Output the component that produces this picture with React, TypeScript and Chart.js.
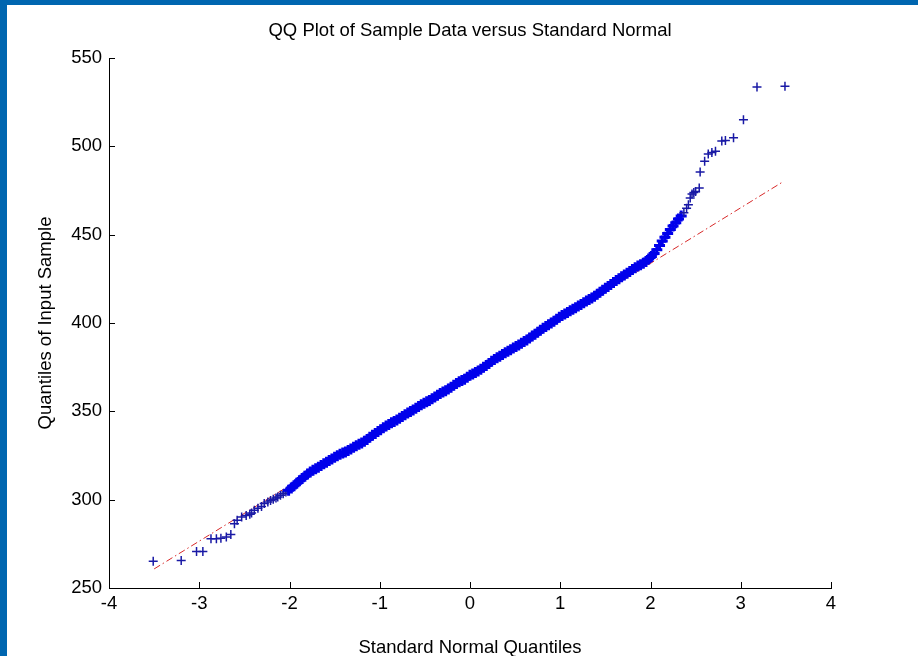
import React, { useEffect, useRef } from "react";
import { Chart, registerables } from "chart.js";

Chart.register(...registerables);

// Theoretical standard-normal quantiles (x) and sample quantiles (y)
const sampleX = [
  -3.51, -3.2, -3.03, -2.96, -2.87, -2.81, -2.76, -2.7, -2.65, -2.61, -2.58, -2.53, -2.48, -2.44, -2.42, -2.39,
  -2.35, -2.31, -2.28, -2.24, -2.21, -2.18, -2.15, -2.13, -2.1, -2.07, -2.04, -2.01,
  -1.98, -1.95, -1.92, -1.89, -1.86, -1.83, -1.8, -1.77, -1.74, -1.71, -1.68, -1.65, -1.62, -1.59, -1.56, -1.53,
  -1.5, -1.47, -1.44, -1.41, -1.38, -1.35, -1.32, -1.29, -1.26, -1.23, -1.2, -1.17, -1.14, -1.11, -1.08, -1.05,
  -1.02, -0.99, -0.96, -0.93, -0.9, -0.87, -0.84, -0.81, -0.78, -0.75, -0.72, -0.69, -0.66, -0.63, -0.6, -0.57,
  -0.54, -0.51, -0.48, -0.45, -0.42, -0.39, -0.36, -0.33, -0.3, -0.27, -0.24, -0.21, -0.18, -0.15, -0.12, -0.09,
  -0.06, -0.03, 0.0, 0.03, 0.06, 0.09, 0.12, 0.15, 0.18, 0.21, 0.24, 0.27, 0.3, 0.33, 0.36, 0.39,
  0.42, 0.45, 0.48, 0.51, 0.54, 0.57, 0.6, 0.63, 0.66, 0.69, 0.72, 0.75, 0.78, 0.81, 0.84, 0.87,
  0.9, 0.93, 0.96, 0.99, 1.02, 1.05, 1.08, 1.11, 1.14, 1.17, 1.2, 1.23, 1.26, 1.29, 1.32, 1.35,
  1.38, 1.41, 1.44, 1.47, 1.5, 1.53, 1.56, 1.59, 1.62, 1.65, 1.68, 1.71, 1.74, 1.77, 1.8, 1.83,
  1.86, 1.89, 1.92, 1.95, 1.98, 2.01, 2.04, 2.07, 2.1, 2.13, 2.16, 2.19, 2.22, 2.25, 2.28, 2.31,
  2.34, 2.37, 2.4, 2.42, 2.44, 2.46, 2.48, 2.5, 2.54, 2.55, 2.6, 2.64, 2.68, 2.72, 2.79, 2.83,
  2.92, 3.03, 3.18, 3.49,
];
const sampleY = [
  265.2, 265.6, 270.7, 270.7, 277.9, 277.9, 278.2, 278.8, 280.3, 286.4, 288.3, 290.2, 291.1, 291.8, 292.4, 294.0,
  295.1, 296.2, 297.8, 298.7, 299.5, 300.2, 300.9, 301.5, 302.5, 303.4, 304.3, 305.3,
  306.6, 307.9, 309.3, 310.7, 312.0, 313.3, 314.5, 315.6, 316.6, 317.5, 318.4, 319.3, 320.3, 321.2, 322.1, 323.0,
  324.0, 324.9, 325.7, 326.4, 327.0, 327.8, 328.7, 329.6, 330.5, 331.3, 332.1, 333.0, 334.1, 335.3, 336.4, 337.5,
  338.6, 339.6, 340.7, 341.7, 342.6, 343.5, 344.3, 345.1, 346.1, 347.1, 348.1, 349.0, 349.9, 350.8, 351.8, 352.8,
  353.7, 354.6, 355.4, 356.2, 357.1, 358.1, 359.1, 360.1, 360.9, 361.7, 362.7, 363.7, 364.7, 365.7, 366.7, 367.4,
  368.2, 369.3, 370.4, 371.2, 372.0, 372.8, 373.8, 374.9, 376.0, 377.1, 378.3, 379.4, 380.3, 381.2, 382.1, 383.1,
  384.0, 384.9, 385.8, 386.7, 387.6, 388.6, 389.5, 390.4, 391.5, 392.6, 393.7, 394.8, 395.9, 397.0, 398.0, 399.0,
  400.0, 401.0, 402.1, 403.2, 404.2, 405.1, 406.0, 406.9, 407.8, 408.7, 409.6, 410.5, 411.5, 412.4, 413.3, 414.2,
  415.2, 416.3, 417.4, 418.5, 419.6, 420.7, 421.8, 422.9, 424.0, 425.1, 426.2, 427.2, 428.2, 429.2, 430.3, 431.3,
  432.2, 433.0, 433.8, 434.8, 436.2, 437.7, 439.3, 441.4, 443.8, 446.4, 448.6, 450.7, 452.9, 454.9, 456.8, 458.8,
  460.6, 462.4, 465.0, 467.0, 470.7, 473.0, 473.8, 474.5, 476.4, 485.5, 491.5, 495.7, 496.5, 497.2, 503.0, 503.3,
  504.8, 515.0, 533.6, 534.0,
];

// Reference line through the quartiles (end points)
const refLineX = [-3.5, 3.47];
const refLineY = [260.8, 480.0];

const xTicks = [-4, -3, -2, -1, 0, 1, 2, 3, 4];
const yTicks = [250, 300, 350, 400, 450, 500, 550];

const titleText = "QQ Plot of Sample Data versus Standard Normal";
const xLabel = "Standard Normal Quantiles";
const yLabel = "Quantiles of Input Sample";

const FONT = "'Liberation Sans', Arial, Helvetica, sans-serif";
const FSIZE = 18.5;

// dense (overplotted) part of the sample draws as a solid band
const isDense = (x: number) => x > -2.03 && x < 2.37;

const decorations = {
  id: "decorations",
  afterDatasetsDraw(chart: any) {
    const { ctx, chartArea, scales } = chart;
    ctx.save();
    ctx.strokeStyle = "#000";
    ctx.lineWidth = 1;
    ctx.beginPath();
    for (const v of xTicks) {
      const px = Math.round(scales.x.getPixelForValue(v)) + 0.5;
      ctx.moveTo(px, chartArea.bottom);
      ctx.lineTo(px, chartArea.bottom - 6);
    }
    for (const v of yTicks) {
      const py = Math.round(scales.y.getPixelForValue(v)) + 0.5;
      ctx.moveTo(chartArea.left, py);
      ctx.lineTo(chartArea.left + 6, py);
    }
    ctx.stroke();
    ctx.fillStyle = "#000";
    ctx.font = `${FSIZE}px ${FONT}`;
    ctx.textAlign = "center";
    ctx.textBaseline = "middle";
    ctx.fillText(titleText, (chartArea.left + chartArea.right) / 2, 31);
    ctx.restore();
  },
};

export default function App() {
  const ref = useRef<HTMLCanvasElement | null>(null);

  useEffect(() => {
    if (!ref.current) return;
    const points = sampleX.map((x, i) => ({ x, y: sampleY[i] }));
    const line = refLineX.map((x, i) => ({ x, y: refLineY[i] }));
    const chart = new Chart(ref.current, {
      type: "scatter",
      data: {
        datasets: [
          {
            label: "sample",
            data: points,
            pointStyle: "cross",
            pointRadius: (c: any) => (c.raw && isDense(c.raw.x) ? 5.5 : 4.5),
            pointBorderWidth: (c: any) => (c.raw && isDense(c.raw.x) ? 3 : 1.5),
            borderColor: (c: any) =>
              c.raw && isDense(c.raw.x) ? "rgb(0,0,235)" : "rgb(25,25,165)",
            backgroundColor: "rgb(15,15,195)",
            showLine: false,
          } as any,
          {
            label: "reference line",
            data: line,
            showLine: true,
            borderColor: "rgb(215,40,40)",
            borderWidth: 1,
            borderDash: [7, 3, 1.5, 3],
            pointRadius: 0,
            fill: false,
          } as any,
        ],
      },
      options: {
        animation: false,
        responsive: false,
        devicePixelRatio: 1,
        layout: { padding: { left: 0, top: 58, right: 87, bottom: 0 } },
        plugins: {
          legend: { display: false },
          tooltip: { enabled: false },
          title: { display: false },
        },
        scales: {
          x: {
            type: "linear",
            min: -4,
            max: 4,
            afterBuildTicks: (s: any) => {
              s.ticks = xTicks.map((v) => ({ value: v }));
            },
            afterFit: (s: any) => {
              s.height = 68;
            },
            ticks: {
              color: "#000",
              font: { family: FONT, size: FSIZE },
              padding: 5,
              maxRotation: 0,
              autoSkip: false,
              callback: (v: any) => String(v),
            },
            grid: { display: false, drawTicks: false },
            border: { display: true, color: "#000", width: 1 },
            title: {
              display: true,
              text: xLabel,
              color: "#000",
              font: { family: FONT, size: FSIZE },
              padding: { top: 0, bottom: -3 },
            },
          },
          y: {
            type: "linear",
            min: 250,
            max: 550,
            afterBuildTicks: (s: any) => {
              s.ticks = yTicks.map((v) => ({ value: v }));
            },
            afterFit: (s: any) => {
              s.width = 109;
            },
            ticks: {
              color: "#000",
              font: { family: FONT, size: FSIZE },
              padding: 7,
              autoSkip: false,
              callback: (v: any) => String(v),
            },
            grid: { display: false, drawTicks: false },
            border: { display: true, color: "#000", width: 1 },
            title: {
              display: true,
              text: yLabel,
              color: "#000",
              font: { family: FONT, size: FSIZE },
              padding: { top: 35, bottom: 0 },
            },
          },
        },
      },
      plugins: [decorations],
    });
    return () => chart.destroy();
  }, []);

  return (
    <div
      style={{
        position: "fixed",
        left: 0,
        top: 0,
        width: 918,
        height: 656,
        background: "#0066b0",
        overflow: "hidden",
      }}
    >
      <div
        style={{
          position: "absolute",
          left: 7,
          top: 5,
          right: 0,
          bottom: 0,
          background: "#ffffff",
        }}
      />
      <canvas
        ref={ref}
        width={918}
        height={656}
        style={{ position: "absolute", left: 0, top: 0 }}
      />
    </div>
  );
}
